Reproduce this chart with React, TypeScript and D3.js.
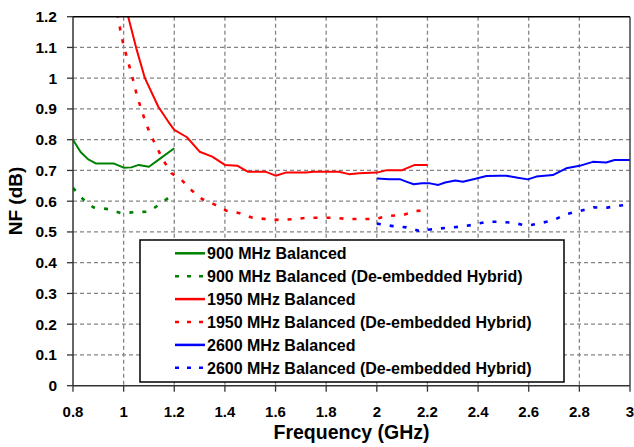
import React from "react";
import * as d3 from "d3";

const xTicks = [0.8, 1, 1.2, 1.4, 1.6, 1.8, 2, 2.2, 2.4, 2.6, 2.8, 3];
const yTicks = [0, 0.1, 0.2, 0.3, 0.4, 0.5, 0.6, 0.7, 0.8, 0.9, 1, 1.1, 1.2];
const xTickLabels = ["0.8", "1", "1.2", "1.4", "1.6", "1.8", "2", "2.2", "2.4", "2.6", "2.8", "3"];
const yTickLabels = ["0", "0.1", "0.2", "0.3", "0.4", "0.5", "0.6", "0.7", "0.8", "0.9", "1", "1.1", "1.2"];

const s900Freq = [0.8, 0.83, 0.86, 0.89, 0.96, 1.0, 1.03, 1.06, 1.1, 1.14, 1.2];
const s900NF = [0.8, 0.76, 0.736, 0.723, 0.723, 0.709, 0.71, 0.718, 0.712, 0.736, 0.772];

const s900dFreq = [0.8, 0.84, 0.88, 0.94, 0.99, 1.04, 1.1, 1.14, 1.18, 1.2];
const s900dNF = [0.643, 0.606, 0.58, 0.574, 0.561, 0.564, 0.566, 0.589, 0.613, 0.622];

const s1950Freq = [1.0, 1.018, 1.05, 1.084, 1.137, 1.176, 1.2, 1.25, 1.3, 1.35, 1.4, 1.45, 1.49, 1.56, 1.6, 1.64, 1.72, 1.75, 1.85, 1.89, 1.93, 2.0, 2.04, 2.1, 2.15, 2.2];
const s1950NF = [1.26, 1.2, 1.097, 1.0, 0.907, 0.859, 0.832, 0.808, 0.761, 0.745, 0.718, 0.715, 0.696, 0.696, 0.683, 0.693, 0.693, 0.696, 0.696, 0.688, 0.691, 0.693, 0.701, 0.701, 0.718, 0.718];

const s1950dFreq = [0.96, 0.979, 0.988, 0.998, 1.012, 1.028, 1.041, 1.054, 1.07, 1.088, 1.11, 1.13, 1.156, 1.189, 1.229, 1.268, 1.31, 1.36, 1.406, 1.459, 1.509, 1.564, 1.617, 1.673, 1.725, 1.78, 1.833, 1.886, 1.94, 1.99, 2.047, 2.104, 2.156, 2.2];
const s1950dNF = [1.25, 1.195, 1.151, 1.113, 1.07, 1.023, 0.983, 0.938, 0.899, 0.853, 0.81, 0.777, 0.734, 0.691, 0.669, 0.636, 0.607, 0.589, 0.569, 0.561, 0.546, 0.542, 0.539, 0.542, 0.546, 0.546, 0.546, 0.542, 0.542, 0.542, 0.552, 0.555, 0.568, 0.572];

const s2600Freq = [2.0, 2.05, 2.093, 2.119, 2.146, 2.178, 2.21, 2.243, 2.27, 2.31, 2.34, 2.394, 2.433, 2.485, 2.511, 2.557, 2.597, 2.63, 2.695, 2.748, 2.801, 2.853, 2.906, 2.939, 3.0];
const s2600NF = [0.674, 0.671, 0.671, 0.663, 0.655, 0.658, 0.658, 0.653, 0.661, 0.667, 0.663, 0.674, 0.682, 0.683, 0.683, 0.676, 0.671, 0.68, 0.685, 0.707, 0.715, 0.728, 0.726, 0.734, 0.734];

const s2600dFreq = [2.0, 2.064, 2.117, 2.165, 2.22, 2.272, 2.327, 2.377, 2.433, 2.482, 2.538, 2.593, 2.643, 2.7, 2.748, 2.801, 2.856, 2.909, 2.963, 3.0];
const s2600dNF = [0.527, 0.519, 0.515, 0.504, 0.509, 0.513, 0.517, 0.523, 0.533, 0.533, 0.53, 0.52, 0.528, 0.539, 0.558, 0.568, 0.58, 0.579, 0.586, 0.59];

const seriesNames = [
  "900 MHz Balanced",
  "900 MHz Balanced (De-embedded Hybrid)",
  "1950 MHz Balanced",
  "1950 MHz Balanced (De-embedded Hybrid)",
  "2600 MHz Balanced",
  "2600 MHz Balanced (De-embedded Hybrid)",
];
const seriesColors = ["#008000", "#008000", "#ff0000", "#ff0000", "#0000ff", "#0000ff"];
const seriesDashed = [false, true, false, true, false, true];
const seriesFreqs = [s900Freq, s900dFreq, s1950Freq, s1950dFreq, s2600Freq, s2600dFreq];
const seriesNFs = [s900NF, s900dNF, s1950NF, s1950dNF, s2600NF, s2600dNF];

export default function App() {
  const W = 634, H = 447;
  const left = 73, right = 630, top = 16.7, bottom = 385.7;
  const x = d3.scaleLinear().domain([0.8, 3]).range([left, right]);
  const y = d3.scaleLinear().domain([0, 1.2]).range([bottom, top]);
  const line = d3.line<[number, number]>().x((d) => x(d[0])).y((d) => y(d[1]));
  const font = "'Liberation Sans', Arial, sans-serif";

  const legendX = 140, legendY = 240, legendW = 424, legendH = 142;

  return (
    <svg width={W} height={H} style={{ position: "absolute", left: 0, top: 0, background: "#fff" }}>
      <defs>
        <clipPath id="plot">
          <rect x={left} y={top} width={right - left} height={bottom - top} />
        </clipPath>
      </defs>
      <rect x={0} y={0} width={W} height={H} fill="#fff" />
      {/* grid */}
      {xTicks.slice(1, -1).map((t) => (
        <line key={"gx" + t} x1={x(t)} x2={x(t)} y1={top} y2={bottom} stroke="#858585" strokeWidth={1.3} strokeDasharray="4 3" />
      ))}
      {yTicks.slice(1, -1).map((t) => (
        <line key={"gy" + t} x1={left} x2={right} y1={y(t)} y2={y(t)} stroke="#858585" strokeWidth={1.3} strokeDasharray="4 3" />
      ))}
      {/* series */}
      <g clipPath="url(#plot)">
        {seriesFreqs.map((fs, i) => (
          <path
            key={"s" + i}
            d={line(fs.map((f, j) => [f, seriesNFs[i][j]] as [number, number])) || ""}
            fill="none"
            stroke={seriesColors[i]}
            strokeWidth={seriesDashed[i] ? 2.6 : 2}
            strokeDasharray={seriesDashed[i] ? "4 9" : undefined}
            strokeLinejoin="round"
          />
        ))}
      </g>
      {/* frame */}
      <line x1={left} x2={right} y1={top} y2={top} stroke="#000" strokeWidth={1.5} />
      <line x1={right} x2={right} y1={top} y2={bottom} stroke="#444" strokeWidth={1.5} />
      <line x1={left} x2={left} y1={top} y2={bottom} stroke="#333" strokeWidth={1.5} />
      <line x1={left} x2={right} y1={bottom} y2={bottom} stroke="#333" strokeWidth={1.5} />
      {yTicks.map((t) => (
        <line key={"ty" + t} x1={left - 6} x2={left} y1={y(t)} y2={y(t)} stroke="#333" strokeWidth={1.3} />
      ))}
      {xTicks.map((t) => (
        <line key={"tx" + t} x1={x(t)} x2={x(t)} y1={bottom} y2={bottom + 6} stroke="#333" strokeWidth={1.3} />
      ))}
      {/* tick labels */}
      {yTicks.map((t, i) => (
        <text key={"ly" + t} x={57} y={y(t) + 5.5} textAnchor="end" fontFamily={font} fontWeight="bold" fontSize={15.5} fill="#000">
          {yTickLabels[i]}
        </text>
      ))}
      {xTicks.map((t, i) => (
        <text key={"lx" + t} x={x(t)} y={416.5} textAnchor="middle" fontFamily={font} fontWeight="bold" fontSize={15} fill="#000">
          {xTickLabels[i]}
        </text>
      ))}
      {/* axis titles */}
      <text x={(left + right) / 2} y={439} textAnchor="middle" fontFamily={font} fontWeight="bold" fontSize={19.5} fill="#000">
        Frequency (GHz)
      </text>
      <text transform="translate(22,201) rotate(-90)" textAnchor="middle" fontFamily={font} fontWeight="bold" fontSize={19} fill="#000">
        NF (dB)
      </text>
      {/* legend */}
      <rect x={legendX} y={legendY} width={legendW} height={legendH} fill="#fff" stroke="#000" strokeWidth={1.5} />
      {seriesNames.map((name, i) => {
        const cy = 253.3 + i * 22.9;
        return (
          <g key={"lg" + i}>
            <line
              x1={175}
              x2={205}
              y1={cy}
              y2={cy}
              stroke={seriesColors[i]}
              strokeWidth={seriesDashed[i] ? 2.6 : 2.5}
              strokeDasharray={seriesDashed[i] ? "4 8" : undefined}
            />
            <text x={207} y={cy + 5.7} fontFamily={font} fontWeight="bold" fontSize={16} fill="#000">
              {name}
            </text>
          </g>
        );
      })}
    </svg>
  );
}
